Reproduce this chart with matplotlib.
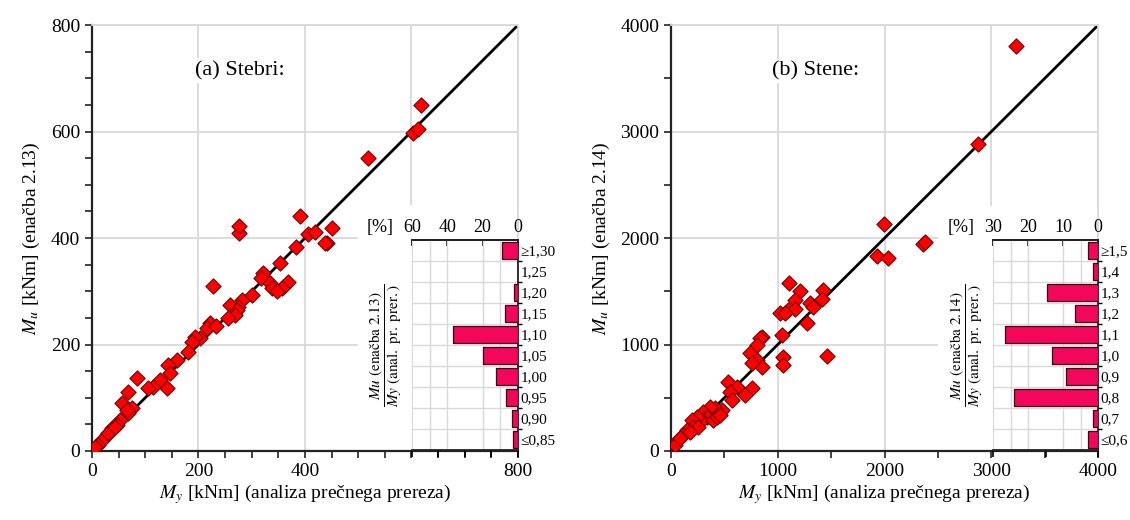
import matplotlib
matplotlib.use("Agg")
import matplotlib.pyplot as plt
from matplotlib.patches import Rectangle
from matplotlib.ticker import MultipleLocator

plt.rcParams['font.family'] = ['Liberation Serif', 'DejaVu Serif']
plt.rcParams['mathtext.fontset'] = 'stix'

# (a) Stebri - My (analiza), Mu (enacba 2.13)
stebri_my = [618, 603, 612, 518, 450, 441, 390, 276, 276, 228, 384, 406, 419, 437, 353, 322,
             318, 334, 338, 359, 368, 356, 300, 281, 275, 259, 272, 268, 256, 222, 216, 203,
             193, 188, 180, 160, 143, 146, 141, 128, 115, 105, 84, 68, 56, 75, 68, 66, 53,
             47, 38, 28, 19, 11, 6, 30, 43, 347, 232]
stebri_mu = [650, 598, 605, 550, 419, 391, 441, 410, 422, 310, 383, 407, 411, 390, 353, 334,
             325, 315, 306, 308, 317, 306, 293, 283, 271, 274, 265, 255, 250, 240, 231, 212,
             214, 205, 186, 171, 161, 146, 118, 133, 120, 118, 137, 111, 90, 81, 71, 77, 58,
             49, 43, 30, 21, 11, 8, 34, 45, 300, 235]

# (b) Stene - My (analiza), Mu (enacba 2.14)
stene_my = [3232, 2876, 1995, 2361, 2380, 1930, 2033, 1105, 1208, 1424, 1415, 1162, 1302, 1330,
            1021, 1096, 1162, 1274, 1040, 852, 1049, 1461, 1049, 834, 805, 740, 805, 852, 759,
            534, 618, 553, 759, 693, 571, 478, 412, 365, 300, 337, 290, 243, 197, 206, 150,
            112, 66, 37, 84, 393, 431, 459, 253, 178, 1068]
stene_mu = [3803, 2885, 2136, 1948, 1965, 1836, 1808, 1574, 1499, 1508, 1424, 1415, 1386, 1349,
            1293, 1321, 1330, 1199, 1087, 1068, 881, 890, 806, 1059, 993, 918, 852, 787, 824,
            646, 600, 553, 590, 525, 478, 384, 403, 412, 365, 319, 290, 319, 290, 225, 197,
            150, 103, 56, 122, 290, 319, 337, 225, 178, 1293]

# histogrami razmerja Mu/My [%]
stebri_razredi = ['\u22640,85', '0,90', '0,95', '1,00', '1,05', '1,10', '1,15', '1,20', '1,25', '\u22651,30']
stebri_delez = [2.8, 3.6, 6.6, 12.3, 19.8, 36.8, 7.2, 2.3, 0.0, 9.0]
stene_razredi = ['\u22640,6', '0,7', '0,8', '0,9', '1,0', '1,1', '1,2', '1,3', '1,4', '\u22651,5']
stene_delez = [2.8, 1.3, 24.0, 9.2, 13.2, 26.6, 6.6, 14.7, 1.3, 2.8]

GRID = '#d9d9d9'
RED = '#ff0000'
PINK = '#f2075a'

fig = plt.figure(figsize=(11.3, 5.2), dpi=100)


def main_panel(rect, x, y, vmax, major, minor, title, title_xy, ylab, box, hide_x=None):
    ax = fig.add_axes(rect)
    ax.set_xlim(0, vmax)
    ax.set_ylim(0, vmax)
    ax.set_axisbelow(True)
    ax.xaxis.set_major_locator(MultipleLocator(major))
    ax.yaxis.set_major_locator(MultipleLocator(major))
    ax.xaxis.set_minor_locator(MultipleLocator(minor))
    ax.yaxis.set_minor_locator(MultipleLocator(minor))
    ax.grid(True, which='major', color=GRID, lw=1.3)
    ax.tick_params(which='both', direction='out', length=5, width=1.2, labelsize=14, color='#222222')
    if hide_x is not None:
        ticks = list(range(0, vmax + 1, major))
        ax.set_xticks(ticks)
        ax.set_xticklabels(['' if t == hide_x else str(t) for t in ticks])
    for s in ['left', 'bottom']:
        ax.spines[s].set_linewidth(1.6)
        ax.spines[s].set_color('#222222')
    for s in ['top', 'right']:
        ax.spines[s].set_color(GRID)
        ax.spines[s].set_linewidth(1.3)
    ax.add_patch(Rectangle((box[0], 0), vmax - box[0], box[1], facecolor='white',
                           edgecolor='none', zorder=1))
    ax.plot([0, vmax], [0, vmax], color='black', lw=2, zorder=2)
    ax.scatter(x, y, marker='D', s=60, color=RED, edgecolors='#7a0000', linewidths=0.8, zorder=3)
    ax.text(title_xy[0], title_xy[1], title, fontsize=16, ha='center', va='center',
            bbox=dict(facecolor='white', edgecolor='none', pad=2), zorder=2.5)
    ax.set_xlabel(r'$M_y$ [kNm] (analiza prečnega prereza)', fontsize=14, labelpad=2)
    ax.set_ylabel(ylab, fontsize=14, labelpad=6)
    return ax


def inset(rect, cats, vals, xmax, top_ticks, grid_step, bottom_step, label):
    ax = fig.add_axes(rect)
    pos = range(len(cats))
    ax.barh(pos, vals, height=0.78, color=PINK, edgecolor='#3a0010', linewidth=0.9, zorder=3)
    ax.set_xlim(xmax, 0)
    ax.set_ylim(-0.5, len(cats) - 0.5)
    ax.set_yticks(list(pos))
    ax.set_yticklabels(cats)
    ax.set_yticks([p + 0.5 for p in range(len(cats) - 1)], minor=True)
    ax.yaxis.tick_right()
    ax.tick_params(axis='y', which='major', length=0, labelsize=11, pad=2)
    ax.tick_params(axis='y', which='minor', length=3, width=1, right=True, left=False)
    ax.grid(True, axis='y', which='minor', color=GRID, lw=1)
    ax.set_xticks([v for v in range(0, xmax + 1, grid_step)], minor=True)
    ax.grid(True, axis='x', which='minor', color=GRID, lw=1)
    ax.set_xticks(list(range(0, xmax + 1, bottom_step)))
    ax.set_xticklabels([])
    ax.tick_params(axis='x', which='major', direction='out', length=5, width=1.2, bottom=True)
    ax.tick_params(axis='x', which='minor', length=0)
    ax.set_axisbelow(True)
    for s in ['top', 'right', 'bottom']:
        ax.spines[s].set_color('#222222')
        ax.spines[s].set_linewidth(1.3)
    ax.spines['left'].set_color(GRID)
    top = ax.secondary_xaxis('top')
    top.set_xticks(top_ticks)
    top.set_xticklabels([str(t) for t in top_ticks])
    top.tick_params(direction='in', length=4, width=1.2, labelsize=13, pad=3)
    top.spines['top'].set_linewidth(1.3)
    ax.text(-0.3, 1.02, '[%]', transform=ax.transAxes, fontsize=13, ha='center', va='bottom')
    ax.set_ylabel(label, fontsize=11, labelpad=6)
    return ax


ax1 = main_panel([0.0814, 0.1327, 0.377, 0.819], stebri_my, stebri_mu, 800, 200, 50,
                 '(a) Stebri:', (278, 715), r'$M_u$ [kNm] (enačba 2.13)', (500, 462), hide_x=600)
ax2 = main_panel([0.5938, 0.1327, 0.378, 0.819], stene_my, stene_mu, 4000, 1000, 500,
                 '(b) Stene:', (1350, 3570), r'$M_u$ [kNm] (enačba 2.14)', (2500, 2300))

inset([0.3646, 0.1346, 0.0938, 0.4039], stebri_razredi, stebri_delez, 60, [60, 40, 20, 0], 10, 15,
      r'$\dfrac{Mu\ \mathrm{(enačba\ 2.13)}}{My\ \mathrm{(anal.\ pr.\ prer.)}}$')
inset([0.8788, 0.1346, 0.0929, 0.4039], stene_razredi, stene_delez, 30, [30, 20, 10, 0], 5, 15,
      r'$\dfrac{Mu\ \mathrm{(enačba\ 2.14)}}{My\ \mathrm{(anal.\ pr.\ prer.)}}$')

fig.savefig('out.png', dpi=100)
